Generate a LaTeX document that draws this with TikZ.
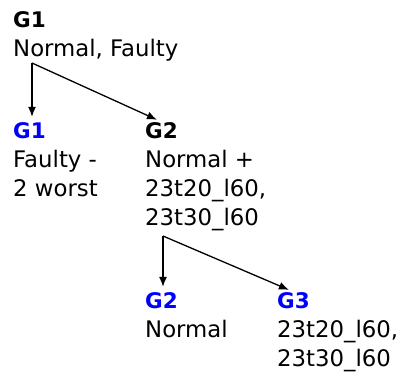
\documentclass[tikz,border=0pt]{standalone}
\usepackage{fontspec}
\setmainfont{DejaVu Sans}
\usetikzlibrary{arrows.meta}

\begin{document}
\begin{tikzpicture}[x=1pt,y=-1pt,
  hd/.style={anchor=base west,inner sep=0pt,font=\fontsize{21.5}{29}\selectfont\bfseries},
  txt/.style={anchor=north west,inner sep=0pt,align=left,font=\fontsize{22.8}{29}\selectfont},
  arr/.style={-{Latex[length=10pt,width=8pt]},line width=1.3pt,shorten >=5pt}]
\useasboundingbox (0,0) rectangle (398,372);

% top group
\node[hd] (gone) at (13,27) {G1};
\node[txt] (gonetxt) at (13,39) {Normal, Faulty};
\coordinate (forkone) at (32,63);

% second row
\node[hd,blue] (gonea) at (13,138) {G1};
\node[txt] (goneatxt) at (13,150) {Faulty -\\2 worst};
\node[hd] (gtwo) at (145,138) {G2};
\node[txt] (gtwotxt) at (145,150) {Normal +\\23t20\_l60,\\23t30\_l60};
\coordinate (forktwo) at (163,236);

% third row
\node[hd,blue] (gtwoa) at (145,308) {G2};
\node[txt] (gtwoatxt) at (145,320) {Normal};
\node[hd,blue] (gthree) at (277,308) {G3};
\node[txt] (gthreetxt) at (277,320) {23t20\_l60,\\23t30\_l60};

\draw[arr] (forkone) -- (forkone |- gonea.north);
\draw[arr] (forkone) -- (gtwo.north);
\draw[arr] (forktwo) -- (forktwo |- gtwoa.north);
\draw[arr] (forktwo) -- (gthree.north);
\end{tikzpicture}
\end{document}
